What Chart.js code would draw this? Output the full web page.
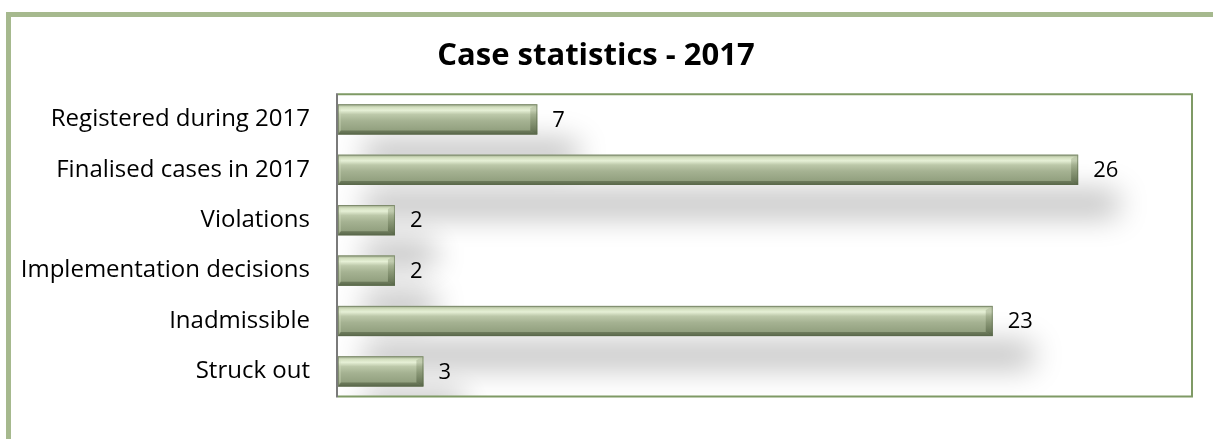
<!DOCTYPE html>
<html>
<head>
<meta charset="utf-8">
<script src="https://cdn.jsdelivr.net/npm/chart.js@4.4.1/dist/chart.umd.min.js"></script>
<style>
    html, body { margin: 0; padding: 0; background: #fff; overflow: hidden; }
    #wrap { position: relative; width: 1213px; height: 439px; }
    #frame {
        position: absolute; left: 6px; top: 12px; width: 1300px; height: 500px;
        border-left: 5px solid #a6b98e; border-top: 5px solid #a6b98e;
        box-sizing: border-box; pointer-events: none;
    }
    canvas { position: absolute; left: 0; top: 0; }
</style>
</head>
<body>
<div id="wrap">
    <canvas id="caseChart" width="1213" height="439"></canvas>
    <div id="frame"></div>
</div>
<script>
// dati del grafico
const categories = [
    "Registered during 2017",
    "Finalised cases in 2017",
    "Violations",
    "Implementation decisions",
    "Inadmissible",
    "Struck out"
];
const caseCounts = [7, 26, 2, 2, 23, 3];
const axisMin = 0;
const axisMax = 30;

const FONT = "'Open Sans'";

// ombra sfumata sotto le barre
const shadowPlugin = {
    id: "barShadow",
    beforeDatasetsDraw(chart) {
        const ctx = chart.ctx;
        const area = chart.chartArea;
        const bars = chart.getDatasetMeta(0).data;
        ctx.save();
        ctx.beginPath();
        ctx.rect(area.left, area.top, area.right - area.left, area.bottom - area.top);
        ctx.clip();
        ctx.fillStyle = "#000";
        ctx.shadowColor = "rgba(0,0,0,0.28)";
        ctx.shadowBlur = 30;
        ctx.shadowOffsetX = 10000 + 26;
        ctx.shadowOffsetY = 34;
        bars.forEach(bar => {
            const left = Math.min(bar.base, bar.x);
            const w = Math.abs(bar.x - bar.base);
            ctx.fillRect(left - 10000, bar.y - bar.height / 2 + 3, w + 14, bar.height - 6);
        });
        ctx.restore();
    }
};

// effetto bevel sulle barre, etichette dei valori e bordo dell'area
const bevelPlugin = {
    id: "barBevel",
    afterDatasetsDraw(chart) {
        const ctx = chart.ctx;
        const area = chart.chartArea;
        const bars = chart.getDatasetMeta(0).data;
        const b = 7;

        bars.forEach((bar, i) => {
            const left = bar.base;
            const right = bar.x;
            const top = bar.y - bar.height / 2;
            const bottom = bar.y + bar.height / 2;

            const g = ctx.createLinearGradient(0, top, 0, bottom);
            g.addColorStop(0, "#9fab8c");
            g.addColorStop(0.1, "#d3dfbf");
            g.addColorStop(0.2, "#e6f0d6");
            g.addColorStop(0.34, "#bcc8a9");
            g.addColorStop(0.55, "#a5b292");
            g.addColorStop(0.85, "#93a180");
            g.addColorStop(1, "#6a795b");
            ctx.fillStyle = g;
            ctx.fillRect(left, top, right - left, bottom - top);

            // faccetta inferiore
            ctx.fillStyle = "rgba(70,84,55,0.45)";
            ctx.beginPath();
            ctx.moveTo(left, bottom);
            ctx.lineTo(right, bottom);
            ctx.lineTo(right - b, bottom - 4);
            ctx.lineTo(left + 2, bottom - 4);
            ctx.closePath();
            ctx.fill();

            // faccetta destra
            const gr = ctx.createLinearGradient(0, top, 0, bottom);
            gr.addColorStop(0, "rgba(190,200,170,0.55)");
            gr.addColorStop(0.5, "rgba(110,125,90,0.45)");
            gr.addColorStop(1, "rgba(70,84,55,0.65)");
            ctx.fillStyle = gr;
            ctx.beginPath();
            ctx.moveTo(right, top);
            ctx.lineTo(right, bottom);
            ctx.lineTo(right - b, bottom - 4);
            ctx.lineTo(right - b, top + 4);
            ctx.closePath();
            ctx.fill();

            // faccetta sinistra
            ctx.fillStyle = "rgba(210,220,190,0.35)";
            ctx.beginPath();
            ctx.moveTo(left, top);
            ctx.lineTo(left + 3, top + 4);
            ctx.lineTo(left + 3, bottom - 4);
            ctx.lineTo(left, bottom);
            ctx.closePath();
            ctx.fill();

            ctx.strokeStyle = "rgba(90,104,75,0.55)";
            ctx.lineWidth = 1;
            ctx.strokeRect(left + 0.5, top + 0.5, right - left - 1, bottom - top - 1);

            // etichetta del valore
            ctx.fillStyle = "#000";
            ctx.font = "22px " + FONT;
            ctx.textAlign = "left";
            ctx.textBaseline = "middle";
            ctx.fillText(String(caseCounts[i]), right + 15, bar.y + 1);
        });

        // bordo dell'area del grafico
        ctx.save();
        ctx.strokeStyle = "#7f9a65";
        ctx.lineWidth = 2;
        ctx.beginPath();
        ctx.moveTo(area.left, area.top);
        ctx.lineTo(area.right, area.top);
        ctx.lineTo(area.right, area.bottom);
        ctx.lineTo(area.left, area.bottom);
        ctx.stroke();
        ctx.strokeStyle = "#7a7a7a";
        ctx.lineWidth = 2;
        ctx.beginPath();
        ctx.moveTo(area.left - 1, area.top - 1);
        ctx.lineTo(area.left - 1, area.bottom + 1);
        ctx.stroke();
        ctx.restore();
    }
};

const ctx = document.getElementById("caseChart").getContext("2d");

new Chart(ctx, {
    type: "bar",
    data: {
        labels: categories,
        datasets: [{
            data: caseCounts,
            backgroundColor: "#aebb98",
            borderWidth: 0,
            categoryPercentage: 1,
            barPercentage: 0.6
        }]
    },
    options: {
        indexAxis: "y",
        responsive: false,
        animation: false,
        layout: { padding: { left: 0, right: 21, top: 0, bottom: 36 } },
        plugins: {
            legend: { display: false },
            tooltip: { enabled: false },
            title: {
                display: true,
                text: "Case statistics - 2017",
                color: "#000",
                font: { family: FONT, size: 31, weight: "bold" },
                padding: { top: 38, bottom: 19 }
            }
        },
        scales: {
            x: { display: false, min: axisMin, max: axisMax },
            y: {
                grid: { display: false, drawTicks: false },
                border: { display: false },
                ticks: { color: "#000", font: { family: FONT, size: 24 }, padding: 28 },
                afterFit(scale) { scale.width = 338; }
            }
        }
    },
    plugins: [shadowPlugin, bevelPlugin]
});
</script>
</body>
</html>
